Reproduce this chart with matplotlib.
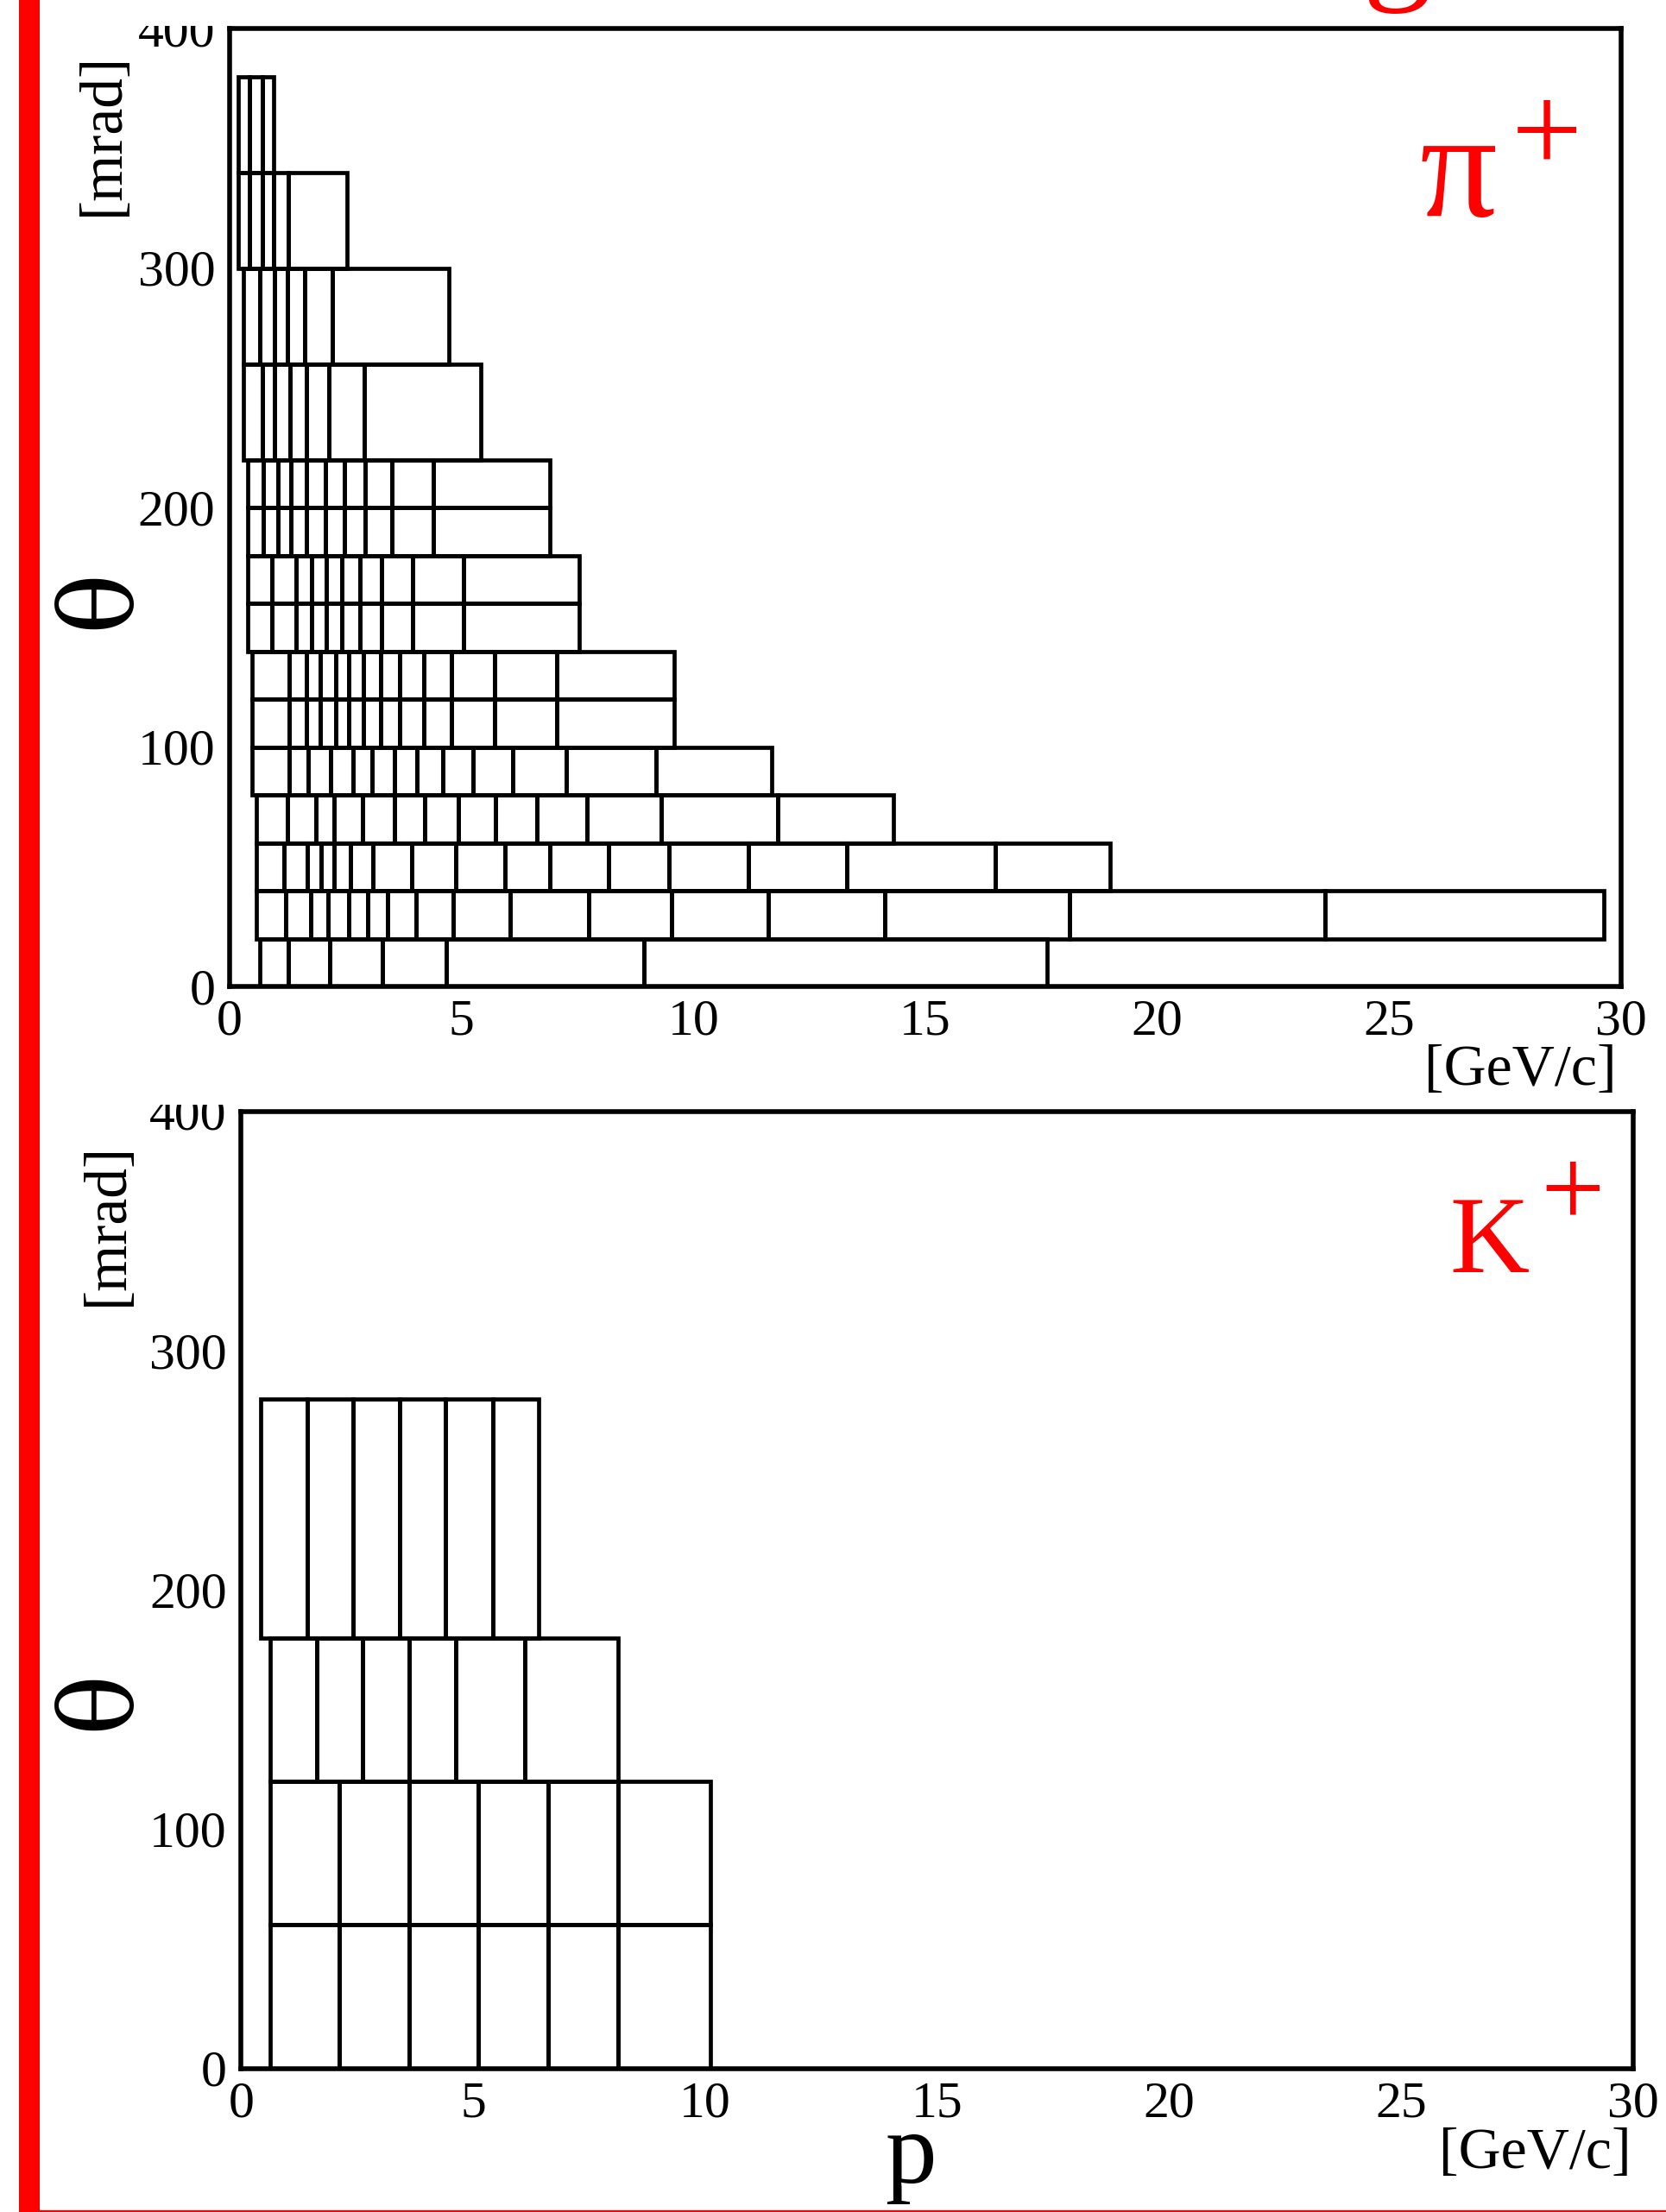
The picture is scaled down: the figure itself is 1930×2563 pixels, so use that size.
import matplotlib
matplotlib.use("Agg")
import matplotlib.pyplot as plt
from matplotlib.patches import Rectangle
from matplotlib.lines import Line2D
from matplotlib.transforms import Bbox, TransformedBbox, offset_copy

plt.rcParams['font.family'] = ['Liberation Serif', 'DejaVu Serif']

W, H, DPI = 1931, 2563, 100

# ---------------- data ----------------
x_ticks = [0, 5, 10, 15, 20, 25, 30]
y_ticks = [0, 100, 200, 300, 400]

# pi+ : theta rows [mrad] and momentum bin edges [GeV/c] for each row
pi_theta_lo = [0, 20, 40, 60, 80, 100, 120, 140, 160, 180, 200, 220, 260, 300, 340]
pi_theta_hi = [20, 40, 60, 80, 100, 120, 140, 160, 180, 200, 220, 260, 300, 340, 380]
pi_row_0_20 = [0.66, 1.27, 2.16, 3.30, 4.67, 8.93, 17.63]
pi_row_20_40 = [0.57, 1.21, 1.75, 2.12, 2.56, 2.97, 3.41, 4.02, 4.82, 6.04, 7.74,
                9.53, 11.61, 14.12, 18.11, 23.61, 29.62]
pi_row_40_60 = [0.58, 1.17, 1.68, 1.97, 2.25, 2.60, 3.09, 3.92, 4.87, 5.93, 6.91,
                8.17, 9.48, 11.18, 13.31, 16.50, 18.98]
pi_row_60_80 = [0.57, 1.24, 1.86, 2.26, 2.87, 3.55, 4.21, 4.94, 5.74, 6.62, 7.71,
                9.31, 11.81, 14.31]
pi_row_80_100 = [0.48, 1.28, 1.69, 2.18, 2.66, 3.08, 3.55, 4.03, 4.59, 5.25, 6.11,
                 7.26, 9.19, 11.68]
pi_row_100_140 = [0.49, 1.28, 1.65, 1.96, 2.28, 2.56, 2.89, 3.26, 3.66, 4.19, 4.79,
                  5.71, 7.06, 9.58]
pi_row_140_180 = [0.39, 0.91, 1.43, 1.77, 2.09, 2.42, 2.81, 3.28, 3.94, 5.04, 7.54]
pi_row_180_220 = [0.39, 0.73, 1.04, 1.32, 1.66, 2.06, 2.47, 2.92, 3.49, 4.39, 6.90]
pi_row_220_260 = [0.29, 0.70, 0.96, 1.31, 1.66, 2.14, 2.91, 5.41]
pi_row_260_300 = [0.29, 0.66, 0.96, 1.24, 1.61, 2.21, 4.72]
pi_row_300_340 = [0.19, 0.43, 0.70, 0.94, 1.27, 2.54]
pi_row_340_380 = [0.19, 0.43, 0.70, 0.94]
pi_p_edges = [pi_row_0_20, pi_row_20_40, pi_row_40_60, pi_row_60_80, pi_row_80_100,
              pi_row_100_140, pi_row_100_140, pi_row_140_180, pi_row_140_180,
              pi_row_180_220, pi_row_180_220, pi_row_220_260, pi_row_260_300,
              pi_row_300_340, pi_row_340_380]

# K+
k_theta_lo = [0, 60, 120, 180]
k_theta_hi = [60, 120, 180, 280]
k_row_0_120 = [0.62, 2.11, 3.62, 5.12, 6.62, 8.12, 10.11]
k_row_120_180 = [0.62, 1.63, 2.62, 3.62, 4.62, 6.12, 8.12]
k_row_180_280 = [0.42, 1.42, 2.42, 3.41, 4.41, 5.42, 6.42]
k_p_edges = [k_row_0_120, k_row_0_120, k_row_120_180, k_row_180_280]

# ---------------- figure ----------------
fig = plt.figure(figsize=(W / DPI, H / DPI), dpi=DPI)
fig.patch.set_facecolor('white')

BOX_LW = 3.4
SPINE_LW = 4.0
TICK_FS = 43
RED = '#ff0000'
THETA_FONT = ['DejaVu Serif']


def px_axes(left, right, top, bottom):
    return [left / W, (H - bottom) / H, (right - left) / W, (bottom - top) / H]


def draw_bins(ax, lo, hi, edges):
    for t0, t1, e in zip(lo, hi, edges):
        lefts = e[:-1]
        widths = [b - a for a, b in zip(e[:-1], e[1:])]
        ax.bar(lefts, [t1 - t0] * len(lefts), width=widths, bottom=t0, align='edge',
               fill=False, edgecolor='black', linewidth=BOX_LW, zorder=2)


def style_axes(ax, xpad):
    ax.set_xlim(0, 30)
    ax.set_ylim(0, 400)
    ax.set_xticks(x_ticks)
    ax.set_xticklabels([str(t) for t in x_ticks])
    ax.set_yticks([])
    ax.tick_params(axis='x', length=0, labelsize=TICK_FS, pad=xpad)
    for s in ax.spines.values():
        s.set_linewidth(SPINE_LW)
        s.set_zorder(5)


def y_labels(ax, cut_px_from_top):
    clip = TransformedBbox(Bbox.from_extents(0, 0, 1, 1 - cut_px_from_top / H), fig.transFigure)
    digit_half = 0.676 * TICK_FS / 2
    tr = offset_copy(ax.get_yaxis_transform(), fig=fig, x=-12, y=-digit_half, units='points')
    for t in y_ticks:
        txt = fig.text(0, t, str(t), transform=tr, ha='right', va='baseline', fontsize=TICK_FS)
        txt.set_clip_box(clip)
        txt.set_clip_on(True)


# ---- top: pi+ ----
ax1 = fig.add_axes(px_axes(266, 1878, 33, 1143.3))
draw_bins(ax1, pi_theta_lo, pi_theta_hi, pi_p_edges)
style_axes(ax1, 10)
y_labels(ax1, 30)
ytr1 = ax1.get_yaxis_transform()
fig.text(-0.0925, 162, 'θ', transform=ytr1, rotation=90, ha='center', va='center',
         fontsize=84, family=THETA_FONT)
fig.text(-0.0906, 356, '[mrad]', transform=ytr1, rotation=90, ha='center', va='center', fontsize=50)
ax1.text(0.9969, -0.0875, '[GeV/c]', transform=ax1.transAxes, ha='right', va='center', fontsize=49)
ax1.text(26.5, 322, 'π', color=RED, ha='center', va='baseline', fontsize=128)
ax1.text(28.4, 353, '+', color=RED, ha='center', va='center', fontsize=105)

# ---- bottom: K+ ----
ax2 = fig.add_axes(px_axes(279.3, 1891.7, 1288, 2396.7))
draw_bins(ax2, k_theta_lo, k_theta_hi, k_p_edges)
style_axes(ax2, 11)
y_labels(ax2, 1280)
ytr2 = ax2.get_yaxis_transform()
fig.text(-0.1005, 154, 'θ', transform=ytr2, rotation=90, ha='center', va='center',
         fontsize=84, family=THETA_FONT)
fig.text(-0.0957, 353, '[mrad]', transform=ytr2, rotation=90, ha='center', va='center', fontsize=50)
ax2.text(0.9989, -0.0890, '[GeV/c]', transform=ax2.transAxes, ha='right', va='center', fontsize=49)
ax2.text(0.481, -0.1190, 'p', transform=ax2.transAxes, ha='center', va='baseline', fontsize=86)
ax2.text(26.9, 333, 'K', color=RED, ha='center', va='baseline', fontsize=92)
ax2.text(28.7, 364, '+', color=RED, ha='center', va='center', fontsize=95)

# ---- slide decorations ----
fig.text(1618 / W, 1 + 18 / H, 'g', color=RED, ha='center', va='baseline', fontsize=115)
fig.patches.append(Rectangle((22 / W, 0), 24 / W, 1, transform=fig.transFigure,
                             facecolor=RED, edgecolor='none', zorder=10))
fig.lines.append(Line2D([46 / W, 1], [1.5 / H, 1.5 / H], transform=fig.transFigure,
                        color=RED, linewidth=1.6, zorder=10))

fig.savefig('out.png', dpi=DPI, facecolor='white')
